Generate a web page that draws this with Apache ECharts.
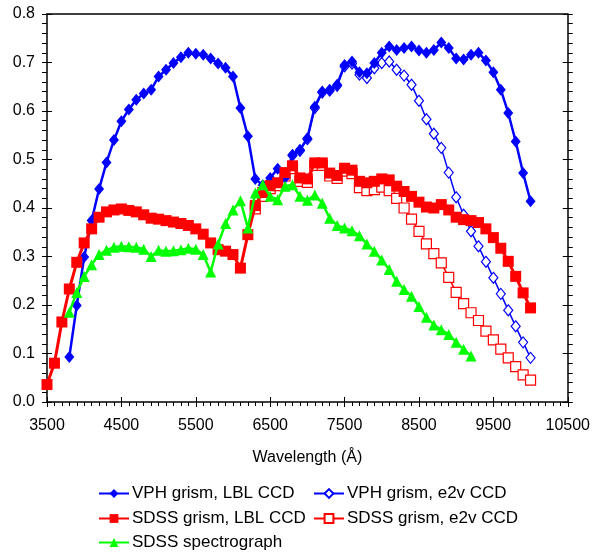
<!DOCTYPE html>
<html>
<head>
<meta charset="utf-8">
<script src="https://cdn.jsdelivr.net/npm/echarts@6/dist/echarts.min.js"></script>
<style>
html,body{margin:0;padding:0;background:#fff;}
#c{width:593px;height:552px;}
</style>
</head>
<body>
<div id="c"></div>
<script>
// ---- data ----
const seriesNames = ["VPH grism, LBL CCD","VPH grism, e2v CCD","SDSS grism, LBL CCD","SDSS grism, e2v CCD","SDSS spectrograph"];

const vphLblWl = [3800,3900,4000,4100,4200,4300,4400,4500,4600,4700,4800,4900,5000,5100,5200,5300,5400,5500,5600,5700,5800,5900,6000,6100,6200,6300,6400,6500,6600,6700,6800,6900,7000,7100,7200,7300,7400,7500,7600,7700,7800,7900,8000,8100,8200,8300,8400,8500,8600,8700,8800,8900,9000,9100,9200,9300,9400,9500,9600,9700,9800,9900,10000];
const vphLblVal = [0.093,0.199,0.299,0.374,0.439,0.494,0.540,0.579,0.603,0.623,0.636,0.644,0.671,0.685,0.699,0.711,0.720,0.718,0.716,0.708,0.698,0.689,0.671,0.606,0.548,0.460,0.447,0.462,0.481,0.462,0.510,0.520,0.544,0.609,0.640,0.644,0.654,0.695,0.702,0.680,0.678,0.699,0.720,0.733,0.726,0.730,0.733,0.725,0.720,0.726,0.741,0.730,0.708,0.706,0.716,0.720,0.704,0.680,0.644,0.596,0.537,0.472,0.414];

const vphE2vWl = [6800,6900,7000,7100,7200,7300,7400,7500,7600,7700,7800,7900,8000,8100,8200,8300,8400,8500,8600,8700,8800,8900,9000,9100,9200,9300,9400,9500,9600,9700,9800,9900,10000];
const vphE2vVal = [0.508,0.518,0.542,0.606,0.638,0.642,0.652,0.692,0.698,0.675,0.668,0.688,0.699,0.702,0.685,0.673,0.654,0.621,0.583,0.553,0.524,0.473,0.422,0.386,0.352,0.321,0.289,0.256,0.223,0.189,0.156,0.123,0.091];

const sdssLblWl = [3500,3600,3700,3800,3900,4000,4100,4200,4300,4400,4500,4600,4700,4800,4900,5000,5100,5200,5300,5400,5500,5600,5700,5800,5900,6000,6100,6200,6300,6400,6500,6600,6700,6800,6900,7000,7100,7200,7300,7400,7500,7600,7700,7800,7900,8000,8100,8200,8300,8400,8500,8600,8700,8800,8900,9000,9100,9200,9300,9400,9500,9600,9700,9800,9900,10000];
const sdssLblVal = [0.036,0.080,0.165,0.233,0.288,0.328,0.357,0.381,0.392,0.396,0.398,0.395,0.392,0.386,0.379,0.377,0.374,0.371,0.368,0.364,0.357,0.346,0.328,0.314,0.311,0.304,0.276,0.345,0.405,0.432,0.446,0.452,0.473,0.487,0.462,0.460,0.493,0.493,0.472,0.467,0.482,0.478,0.455,0.452,0.455,0.460,0.458,0.445,0.434,0.424,0.412,0.402,0.400,0.407,0.396,0.381,0.376,0.374,0.370,0.357,0.339,0.317,0.290,0.259,0.225,0.194];

const sdssE2vWl = [6300,6400,6500,6600,6700,6800,6900,7000,7100,7200,7300,7400,7500,7600,7700,7800,7900,8000,8100,8200,8300,8400,8500,8600,8700,8800,8900,9000,9100,9200,9300,9400,9500,9600,9700,9800,9900,10000];
const sdssE2vVal = [0.398,0.424,0.440,0.446,0.466,0.481,0.455,0.453,0.488,0.488,0.466,0.461,0.476,0.471,0.442,0.436,0.438,0.443,0.436,0.420,0.400,0.377,0.352,0.326,0.306,0.287,0.257,0.226,0.203,0.184,0.168,0.146,0.128,0.109,0.091,0.073,0.056,0.045];

const specWl = [3800,3900,4000,4100,4200,4300,4400,4500,4600,4700,4800,4900,5000,5100,5200,5300,5400,5500,5600,5700,5800,5900,6000,6100,6200,6300,6400,6500,6600,6700,6800,6900,7000,7100,7200,7300,7400,7500,7600,7700,7800,7900,8000,8100,8200,8300,8400,8500,8600,8700,8800,8900,9000,9100,9200];
const specVal = [0.185,0.226,0.259,0.283,0.304,0.313,0.319,0.321,0.320,0.319,0.315,0.300,0.313,0.311,0.312,0.314,0.317,0.315,0.304,0.268,0.326,0.368,0.396,0.415,0.359,0.431,0.448,0.424,0.417,0.445,0.448,0.424,0.416,0.427,0.410,0.379,0.364,0.359,0.353,0.343,0.326,0.311,0.293,0.273,0.249,0.232,0.218,0.197,0.175,0.159,0.149,0.139,0.123,0.109,0.095];

const xTicks = [3500,4500,5500,6500,7500,8500,9500,10500];
const yTicks = [0.0,0.1,0.2,0.3,0.4,0.5,0.6,0.7,0.8];

// ---- chart ----
const zip = (a, b) => a.map((x, i) => [x, b[i]]);
const FONT = 'Liberation Sans, Arial, sans-serif';
const chart = echarts.init(document.getElementById('c'), null, {renderer: 'canvas'});

const axisLine = {show: true, onZero: false, lineStyle: {color: '#000', width: 1.5}};
const xMin = xTicks[0], xMax = xTicks[xTicks.length - 1];
const yMin = yTicks[0], yMax = yTicks[yTicks.length - 1];

const legendPos = [
  {left: 93, top: 480},
  {left: 308, top: 480},
  {left: 93, top: 505},
  {left: 308, top: 505},
  {left: 93, top: 529}
];

const option = {
  backgroundColor: '#fff',
  animation: false,
  textStyle: {fontFamily: FONT},
  grid: {left: 47, top: 14, width: 521, height: 388, show: false},
  legend: seriesNames.map((n, i) => ({
    data: [n],
    left: legendPos[i].left,
    top: legendPos[i].top,
    itemWidth: 30,
    itemHeight: 11,
    itemGap: 4,
    textStyle: {fontFamily: FONT, fontSize: 17, color: '#000', padding: [0, 0, 0, -2]},
    selectedMode: false
  })),
  xAxis: [
    {
      type: 'value', min: xMin, max: xMax, interval: 1000, position: 'bottom',
      name: 'Wavelength (Å)', nameLocation: 'middle', nameGap: 48,
      nameTextStyle: {fontFamily: FONT, fontSize: 16, color: '#000'},
      axisLine: axisLine,
      axisTick: {show: true, inside: false, length: 5, lineStyle: {color: '#000', width: 1}},
      minorTick: {show: true, splitNumber: 10, length: 4, lineStyle: {color: '#000', width: 1}},
      axisLabel: {fontFamily: FONT, fontSize: 16, color: '#000', margin: 16, formatter: v => String(v)},
      splitLine: {show: false}
    },
    {
      type: 'value', min: xMin, max: xMax, interval: 1000, position: 'bottom', gridIndex: 0,
      axisLine: {show: false},
      axisTick: {show: true, inside: true, length: 5, lineStyle: {color: '#000', width: 1}},
      axisLabel: {show: false}, splitLine: {show: false}
    },
    {
      type: 'value', min: xMin, max: xMax, position: 'top',
      axisLine: axisLine, axisTick: {show: false}, axisLabel: {show: false}, splitLine: {show: false}
    }
  ],
  yAxis: [
    {
      type: 'value', min: yMin, max: yMax, interval: 0.1, position: 'left',
      axisLine: axisLine,
      axisTick: {show: true, inside: false, length: 5, lineStyle: {color: '#000', width: 1}},
      minorTick: {show: true, splitNumber: 5, length: 5, lineStyle: {color: '#000', width: 1}},
      axisLabel: {fontFamily: FONT, fontSize: 16, color: '#000', margin: 12, formatter: v => v.toFixed(1)},
      splitLine: {show: false}
    },
    {
      type: 'value', min: yMin, max: yMax, interval: 0.1, position: 'left',
      axisLine: {show: false},
      axisTick: {show: true, inside: true, length: 5, lineStyle: {color: '#000', width: 1}},
      axisLabel: {show: false}, splitLine: {show: false}
    },
    {
      type: 'value', min: yMin, max: yMax, interval: 0.1, position: 'right',
      axisLine: axisLine,
      axisTick: {show: true, inside: false, length: 5, lineStyle: {color: '#000', width: 1}},
      minorTick: {show: true, splitNumber: 5, length: 5, lineStyle: {color: '#000', width: 1}},
      axisLabel: {show: false}, splitLine: {show: false}
    },
    {
      type: 'value', min: yMin, max: yMax, interval: 0.1, position: 'right',
      axisLine: {show: false},
      axisTick: {show: true, inside: true, length: 5, lineStyle: {color: '#000', width: 1}},
      axisLabel: {show: false}, splitLine: {show: false}
    }
  ],
  series: [
    {
      name: seriesNames[0], type: 'line', data: zip(vphLblWl, vphLblVal), z: 4,
      symbol: 'diamond', symbolSize: [10, 12], showAllSymbol: true,
      lineStyle: {color: '#0000FF', width: 2.5},
      itemStyle: {color: '#0000FF'}
    },
    {
      name: seriesNames[1], type: 'line', data: zip(vphE2vWl, vphE2vVal), z: 2,
      symbol: 'diamond', symbolSize: [9, 11], showAllSymbol: true,
      lineStyle: {color: '#0000FF', width: 1.5},
      itemStyle: {color: '#FFFFFF', borderColor: '#0000FF', borderWidth: 1.2}
    },
    {
      name: seriesNames[2], type: 'line', data: zip(sdssLblWl, sdssLblVal), z: 5,
      symbol: 'rect', symbolSize: 11, showAllSymbol: true,
      lineStyle: {color: '#FF0000', width: 3},
      itemStyle: {color: '#FF0000'}
    },
    {
      name: seriesNames[3], type: 'line', data: zip(sdssE2vWl, sdssE2vVal), z: 3,
      symbol: 'rect', symbolSize: 10, showAllSymbol: true,
      lineStyle: {color: '#FF0000', width: 1.5},
      itemStyle: {color: '#FFFFFF', borderColor: '#FF0000', borderWidth: 1.2}
    },
    {
      name: seriesNames[4], type: 'line', data: zip(specWl, specVal), z: 6,
      symbol: 'triangle', symbolSize: 11, showAllSymbol: true,
      lineStyle: {color: '#00FF00', width: 2.5},
      itemStyle: {color: '#00FF00'}
    }
  ]
};
chart.setOption(option);
</script>
</body>
</html>
